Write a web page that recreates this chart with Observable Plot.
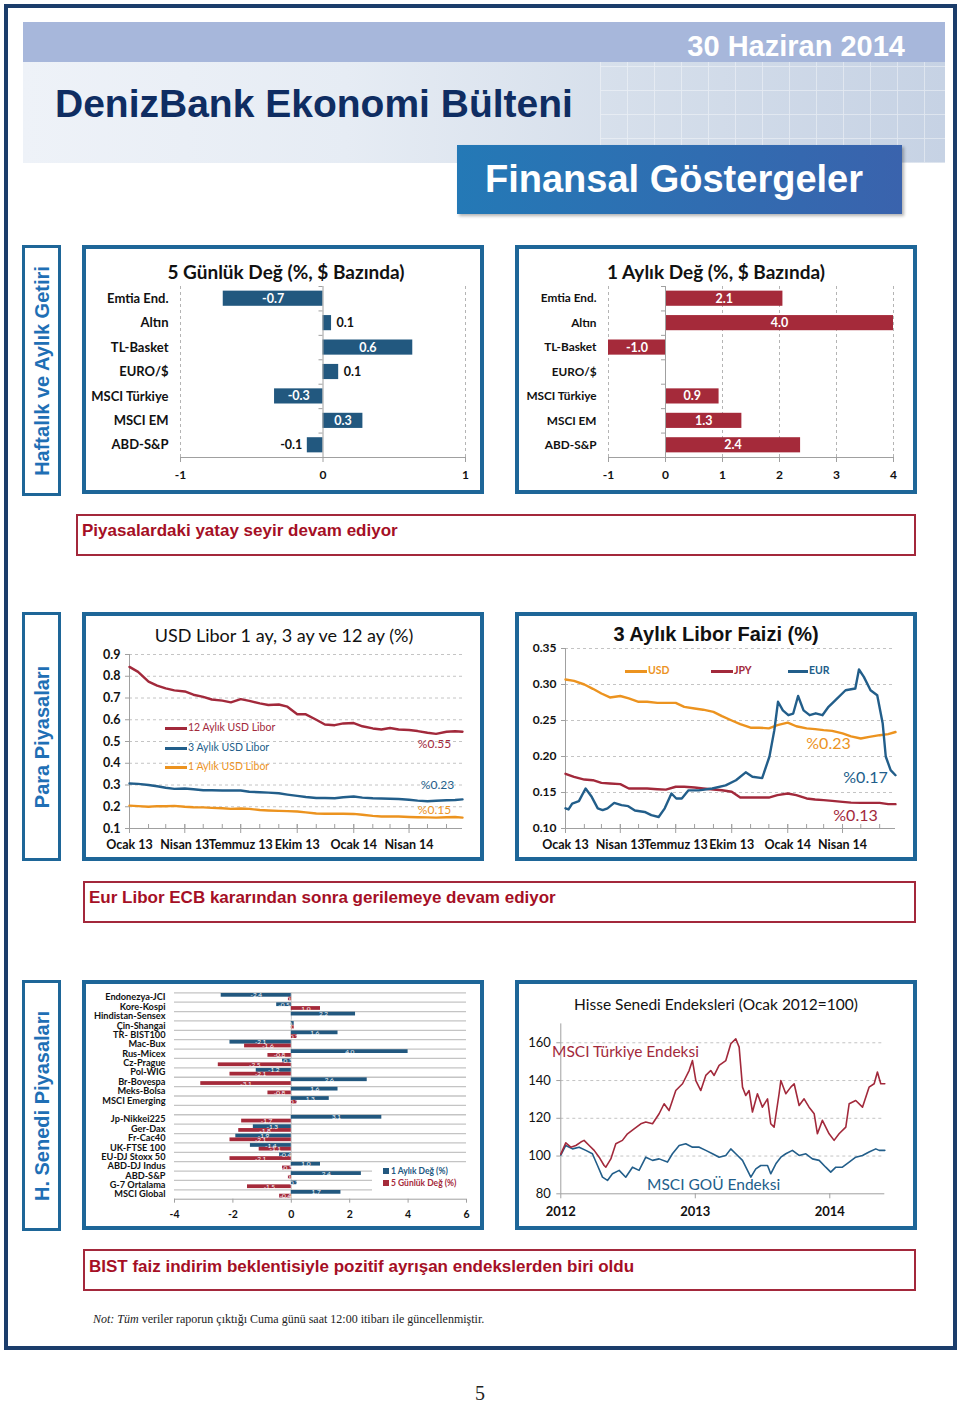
<!DOCTYPE html>
<html><head><meta charset="utf-8">
<script src="https://cdn.jsdelivr.net/npm/d3@7"></script>
<script src="https://cdn.jsdelivr.net/npm/@observablehq/plot@0.6"></script>
<style>
body{margin:0;background:#fff;}
#page{position:relative;width:960px;height:1403px;overflow:hidden;font-family:Lato,sans-serif;background:#fff;}
.panel{border:4px solid #1e6698;box-sizing:border-box;background:#fff;}
.side{border:3px solid #1e6698;box-sizing:border-box;background:#fff;}
.side span{position:absolute;left:50%;top:50%;transform:translate(-50%,-50%) rotate(-90deg);white-space:nowrap;font:bold 20px "Liberation Sans",Arial,sans-serif;color:#1f6fb5;}
.cap{border:2px solid #a3283b;box-sizing:border-box;background:#fff;}
.captxt{font:bold 17px/17px "Liberation Sans",Arial,sans-serif;color:#a50f25;white-space:nowrap;}
.ttl{text-align:center;white-space:nowrap;color:#111;}
.lg{white-space:nowrap;font-size:10.5px;line-height:10.5px;}
.sw{display:inline-block;width:22px;height:3px;vertical-align:middle;margin-right:1px;}
</style></head>
<body><div id="page"></div>
<script>
// ---------- data ----------
const returnCats = ["Emtia End.","Altın","TL-Basket","EURO/$","MSCI Türkiye","MSCI EM","ABD-S&P"];
const weeklyChange = [-0.70, 0.06, 0.63, 0.11, -0.34, 0.28, -0.11];
const monthlyChange = [2.06, 4.0, -1.0, null, 0.94, 1.34, 2.37];
const weeklyTicks = [-1, 0, 1];
const monthlyTicks = [-1, 0, 1, 2, 3, 4];

const liborDates = ["2013-01-01","2013-01-15","2013-02-01","2013-02-15","2013-03-01","2013-03-15","2013-04-01","2013-04-15","2013-05-01","2013-05-15","2013-06-01","2013-06-15","2013-07-01","2013-07-15","2013-08-01","2013-08-15","2013-09-01","2013-09-15","2013-10-01","2013-10-15","2013-11-01","2013-11-15","2013-12-01","2013-12-15","2014-01-01","2014-01-15","2014-02-01","2014-02-15","2014-03-01","2014-03-15","2014-04-01","2014-04-15","2014-05-01","2014-05-15","2014-06-01","2014-06-15","2014-06-27"];
const usd12m = [0.843,0.82,0.775,0.757,0.744,0.735,0.73,0.715,0.705,0.693,0.688,0.68,0.695,0.687,0.675,0.668,0.67,0.66,0.625,0.625,0.60,0.578,0.575,0.583,0.585,0.57,0.56,0.555,0.562,0.555,0.553,0.548,0.54,0.535,0.545,0.547,0.545];
const usd3m = [0.307,0.305,0.300,0.294,0.2875,0.282,0.284,0.2806,0.276,0.276,0.2745,0.2745,0.2745,0.269,0.2667,0.265,0.262,0.256,0.25,0.245,0.24,0.24,0.239,0.2435,0.247,0.242,0.239,0.238,0.2366,0.2356,0.232,0.228,0.225,0.2273,0.2296,0.231,0.234];
const usd1m = [0.205,0.203,0.2,0.203,0.202,0.204,0.2,0.198,0.197,0.195,0.193,0.19,0.192,0.19,0.185,0.183,0.181,0.18,0.178,0.174,0.169,0.168,0.168,0.168,0.167,0.163,0.158,0.155,0.155,0.155,0.153,0.152,0.151,0.15,0.152,0.153,0.15];
const jpy3m = [0.176,0.1718,0.168,0.1671,0.1634,0.1625,0.1616,0.1556,0.1556,0.1556,0.1546,0.154,0.158,0.158,0.157,0.1556,0.1542,0.1532,0.151,0.143,0.143,0.143,0.143,0.1463,0.1486,0.1463,0.1417,0.1403,0.1394,0.1384,0.137,0.136,0.1356,0.1356,0.1356,0.1338,0.1338];
const eurDates = ["2013-01-01","2013-01-06","2013-01-12","2013-01-23","2013-02-03","2013-02-13","2013-02-23","2013-03-03","2013-03-11","2013-03-22","2013-04-03","2013-04-14","2013-04-25","2013-05-11","2013-05-22","2013-06-03","2013-06-13","2013-06-24","2013-07-02","2013-07-11","2013-07-22","2013-08-08","2013-08-30","2013-09-21","2013-10-08","2013-10-24","2013-11-04","2013-11-20","2013-12-02","2013-12-10","2013-12-16","2013-12-24","2014-01-02","2014-01-10","2014-01-18","2014-01-27","2014-02-06","2014-02-16","2014-02-27","2014-03-09","2014-03-20","2014-04-06","2014-04-22","2014-04-28","2014-05-06","2014-05-17","2014-05-28","2014-06-06","2014-06-11","2014-06-19","2014-06-27"];
const eur3m = [0.128,0.1264,0.1347,0.138,0.1556,0.144,0.128,0.1255,0.128,0.1356,0.1324,0.131,0.125,0.123,0.1185,0.116,0.128,0.1486,0.1417,0.1417,0.153,0.153,0.1556,0.16,0.167,0.178,0.1718,0.17,0.2,0.2366,0.276,0.264,0.2574,0.2597,0.284,0.264,0.2574,0.26,0.2574,0.269,0.278,0.292,0.2944,0.3208,0.3106,0.292,0.285,0.2458,0.2,0.181,0.174];
const quarterTicks = ["2013-01-01","2013-04-01","2013-07-01","2013-10-01","2014-01-01","2014-04-01"];
const quarterLabels = ["Ocak 13","Nisan 13","Temmuz 13","Ekim 13","Ocak 14","Nisan 14"];
const usdLiborTicks = [0.1,0.2,0.3,0.4,0.5,0.6,0.7,0.8,0.9];
const liborFaizTicks = [0.10,0.15,0.20,0.25,0.30,0.35];

const stockCats = ["Endonezya-JCI","Kore-Kospi","Hindistan-Sensex","Çin-Shangai","TR- BIST100","Mac-Bux","Rus-Micex","Cz-Prague","Pol-WIG","Br-Bovespa","Meks-Bolsa","MSCI Emerging","","Jp-Nikkei225","Ger-Dax","Fr-Cac40","UK-FTSE 100","EU-DJ Stoxx 50","ABD-DJ Indus","ABD-S&P","G-7 Ortalama","MSCI Global"];
const stockMonthly = [-2.4,-0.5,2.2,0.1,1.6,-2.1,4.0,-0.3,-1.2,2.6,1.6,1.3,null,3.1,-1.3,-1.9,-1.4,-0.4,1.0,2.4,0.2,1.7];
const stockWeekly = [-0.1,1.0,0.0,0.1,0.2,-1.6,-0.8,-2.5,-2.1,-3.1,-0.8,0.2,null,-1.7,-1.8,-2.1,-1.1,-2.1,-0.3,-0.1,-1.5,-0.4];
const stockTicks = [-4,-2,0,2,4,6];

const turkeyYears = [2012.000,2012.037,2012.074,2012.112,2012.149,2012.173,2012.211,2012.248,2012.285,2012.322,2012.335,2012.372,2012.409,2012.458,2012.496,2012.545,2012.595,2012.632,2012.682,2012.731,2012.768,2012.805,2012.855,2012.905,2012.954,2012.979,2013.004,2013.041,2013.078,2013.115,2013.140,2013.177,2013.227,2013.264,2013.301,2013.326,2013.351,2013.375,2013.400,2013.425,2013.462,2013.499,2013.537,2013.561,2013.586,2013.623,2013.636,2013.673,2013.710,2013.735,2013.772,2013.809,2013.846,2013.884,2013.908,2013.945,2013.995,2014.032,2014.069,2014.119,2014.144,2014.193,2014.243,2014.292,2014.330,2014.354,2014.379,2014.409];
const turkeyIndex = [101,107,104.7,105.6,107.4,108.3,105.6,103,99.4,95,94.1,98.5,106.5,108.3,111.8,114.4,117.1,118,117.1,122.4,127.7,124.1,134.7,138.3,145.3,150.6,140,134.7,142.7,145.3,142.7,148,150.6,159.5,162.1,157.7,136.5,132.1,134.7,123.3,133,125.9,130.3,117.1,115.3,133,140,133,136.5,138.3,126.8,130.3,125.9,122.4,111.8,118.9,111.8,108.3,111.8,115.3,127.7,129.4,125.9,136.5,138.3,144.5,138.3,138.3];
const emYears = [2012.000,2012.037,2012.087,2012.136,2012.186,2012.235,2012.273,2012.310,2012.347,2012.384,2012.434,2012.483,2012.533,2012.582,2012.632,2012.682,2012.731,2012.793,2012.830,2012.880,2012.929,2012.979,2013.029,2013.078,2013.128,2013.177,2013.227,2013.264,2013.301,2013.351,2013.388,2013.413,2013.450,2013.487,2013.537,2013.561,2013.599,2013.636,2013.673,2013.722,2013.772,2013.822,2013.871,2013.921,2013.970,2014.007,2014.045,2014.094,2014.144,2014.193,2014.243,2014.292,2014.342,2014.367,2014.409];
const emIndex = [100.5,105.6,103.8,104.7,103,101.2,95,88.8,87.1,90.6,92.4,88.8,94.1,92.4,99.4,97.7,98.5,96.8,101.2,105.6,106.5,104.7,104.7,103,101.2,99.4,100.3,103.8,101.2,97.7,92.4,88.8,93.2,95,95,90.6,95.9,99.4,101.2,103,100.3,101.2,98.5,97.7,94.1,91.5,94.1,94.1,96.8,99.4,100.3,102.1,103.8,103,103];
const yearTicks = [2012, 2013, 2014];
const indexTicks = [80, 100, 120, 140, 160];

// ---------- colours ----------
const BLUE_BAR = "#22587f", RED_BAR = "#a52a3a";
const RED = "#a2293b", BLUE = "#225e8a", ORANGE = "#ec931f";
const AXIS = "#a0a0a0", GRID = "#c4c4c4";

// ---------- helpers ----------
const page = document.getElementById("page");
function el(css, html, cls) {
  const e = document.createElement("div");
  if (cls) e.className = cls;
  e.style.cssText = "position:absolute;" + css;
  if (html != null) e.innerHTML = html;
  page.appendChild(e);
  return e;
}
function place(svg, left, top) { el(`left:${left}px;top:${top}px;`).appendChild(svg); }
const style = {fontFamily: "Lato, sans-serif", fontSize: "11px", color: "#111", background: "transparent", overflow: "visible"};

// ---------- page furniture ----------
el("left:4px;top:4px;width:953px;height:1346px;border:4px solid #1b3d6b;box-sizing:border-box;");
el("left:23px;top:22px;width:922px;height:40px;background:#a7b7db;");
el("left:23px;top:62px;width:922px;height:101px;background:linear-gradient(90deg,#eef2f8 0%,#e6ecf4 35%,#d6dfeb 65%,#c6d2e4 100%);");
el("left:600px;top:62px;width:345px;height:101px;opacity:.45;background-image:repeating-linear-gradient(90deg,rgba(255,255,255,.9) 0 1px,transparent 1px 27px),repeating-linear-gradient(0deg,rgba(255,255,255,.9) 0 1px,transparent 1px 24px);");
el("right:55px;top:32px;font:bold 29px/29px 'Liberation Sans',Arial,sans-serif;color:#fff;white-space:nowrap;", "30 Haziran 2014");
el("left:55px;top:84px;font:bold 39px/39px 'Liberation Sans',Arial,sans-serif;color:#0f2d62;white-space:nowrap;", "DenizBank Ekonomi Bülteni");
el("left:457px;top:145px;width:445px;height:69px;background:linear-gradient(90deg,#2479b6,#3a63ad);box-shadow:2px 2px 3px rgba(0,0,0,.3);");
el("left:485px;top:160px;font:bold 38px/38px 'Liberation Sans',Arial,sans-serif;color:#fff;white-space:nowrap;", "Finansal Göstergeler");

el("left:22px;top:245px;width:39px;height:251px;", "<span>Haftalık ve Aylık Getiri</span>", "side");
el("left:22px;top:612px;width:39px;height:249px;", "<span>Para Piyasaları</span>", "side");
el("left:22px;top:980px;width:39px;height:251px;", "<span>H. Senedi Piyasaları</span>", "side");

const panels = [[82,245,402,249],[515,245,402,249],[82,612,402,249],[515,612,402,249],[82,980,402,250],[515,980,402,250]];
for (const [l,t,w,h] of panels) el(`left:${l}px;top:${t}px;width:${w}px;height:${h}px;`, null, "panel");

el("left:76px;top:514px;width:840px;height:42px;", null, "cap");
el("left:82px;top:522px;", "Piyasalardaki yatay seyir devam ediyor", "captxt");
el("left:83px;top:881px;width:833px;height:42px;", null, "cap");
el("left:89px;top:889px;", "Eur Libor ECB kararından sonra gerilemeye devam ediyor", "captxt");
el("left:83px;top:1249px;width:833px;height:42px;", null, "cap");
el("left:89px;top:1258px;", "BIST faiz indirim beklentisiyle pozitif ayrışan endekslerden biri oldu", "captxt");

el("left:93px;top:1313px;font:12px/12px 'Liberation Serif',serif;color:#222;white-space:nowrap;", "<i>Not: Tüm</i> veriler raporun çıktığı Cuma günü saat 12:00 itibarı ile güncellenmiştir.");
el("left:475px;top:1383px;font:20px/20px 'Liberation Serif',serif;color:#222;", "5");

// ---------- charts 1 & 2 ----------
function returnChart(vals, ticks, color, mL, mR, threshold, catFont) {
  const n = returnCats.length;
  const rows = returnCats.map((c, i) => ({c, i, v: vals[i]})).filter(d => d.v !== null);
  const inside = rows.filter(d => Math.abs(d.v) >= threshold);
  const outPos = rows.filter(d => Math.abs(d.v) < threshold && d.v > 0);
  const outNeg = rows.filter(d => Math.abs(d.v) < threshold && d.v < 0);
  const fmt = d => d.v.toFixed(1);
  const lab = {y: d => d.i + 0.5, text: fmt, fontWeight: "bold", fontSize: 12.5};
  return Plot.plot({
    width: 394, height: 241, marginLeft: mL, marginRight: mR, marginTop: 36, marginBottom: 34,
    x: {domain: [ticks[0], ticks[ticks.length - 1]]}, y: {domain: [n, 0]}, style,
    marks: [
      Plot.ruleX(ticks.filter(t => t !== 0), {y1: 0, y2: n, stroke: "#b4b4b4", strokeDasharray: "3,3"}),
      Plot.rect(rows, {x1: 0, x2: "v", y1: d => d.i + 0.19, y2: d => d.i + 0.81, fill: color}),
      Plot.ruleX([0], {y1: 0, y2: n, stroke: AXIS}),
      Plot.ruleY(d3.range(n + 1), {x1: 0, x2: 0, insetLeft: -4, stroke: AXIS}),
      Plot.ruleY([n], {stroke: AXIS}),
      Plot.ruleX(ticks, {y1: n, y2: n, insetBottom: -5, stroke: AXIS}),
      Plot.axisX({ticks, tickSize: 0, tickPadding: 13, fontWeight: "bold", fontSize: 12, label: null, tickFormat: d => String(d)}),
      Plot.axisY({ticks: d3.range(n).map(i => i + 0.5), tickFormat: t => returnCats[Math.floor(t)], tickSize: 0, tickPadding: 12, fontWeight: "bold", fontSize: catFont, label: null}),
      Plot.text(inside, {...lab, x: d => d.v / 2, fill: "white"}),
      Plot.text(outPos, {...lab, x: "v", textAnchor: "start", dx: 5, fill: "#111"}),
      Plot.text(outNeg, {...lab, x: "v", textAnchor: "end", dx: -5, fill: "#111"})
    ]
  });
}
el("left:85px;top:262px;width:402px;font:bold 19px/19px Lato,sans-serif;", "5 Günlük Değ (%, $ Bazında)", "ttl");
place(returnChart(weeklyChange, weeklyTicks, BLUE_BAR, 93, 16, 0.15, 13), 87, 250);
el("left:515px;top:262px;width:402px;font:bold 19px/19px Lato,sans-serif;", "1 Aylık Değ (%, $ Bazında)", "ttl");
place(returnChart(monthlyChange, monthlyTicks, RED_BAR, 90, 19, 0.15, 11.8), 518, 250);

// ---------- charts 3 & 4 ----------
const qDates = quarterTicks.map(d => new Date(d));
const qLabel = d => quarterLabels[qDates.findIndex(q => +q === +d)];
function timeChart({series, yTicks, yFmt, mL, mR, mT, mB, yFont}) {
  const start = new Date(liborDates[0]), end = new Date(liborDates[liborDates.length - 1]);
  const months = d3.utcMonth.range(start, end);
  const y0 = yTicks[0], y1 = yTicks[yTicks.length - 1];
  const marks = [
    Plot.ruleY(yTicks.slice(1), {stroke: GRID, strokeDasharray: "3,3"}),
    Plot.ruleY([y0], {stroke: AXIS}),
    Plot.ruleX([start], {y1: y0, y2: y1, stroke: AXIS}),
    Plot.ruleY(yTicks, {x1: start, x2: start, insetLeft: -4, stroke: AXIS}),
    Plot.ruleX(months, {y1: y0, y2: y0, insetTop: -4, stroke: AXIS}),
    Plot.ruleX(qDates, {y1: y0, y2: y0, insetTop: -4, insetBottom: -5, stroke: AXIS}),
    Plot.axisX({ticks: qDates, tickFormat: qLabel, tickSize: 0, tickPadding: 12, fontWeight: "bold", fontSize: 12.5, label: null}),
    Plot.axisY({ticks: yTicks, tickFormat: yFmt, tickSize: 0, tickPadding: 9, fontWeight: "bold", fontSize: yFont, label: null})
  ];
  for (const s of series) {
    const data = s.dates.map((d, i) => ({date: new Date(d), v: s.values[i]}));
    marks.push(Plot.line(data, {x: "date", y: "v", stroke: s.color, strokeWidth: 2.4}));
  }
  for (const s of series) {
    const last = {date: new Date(s.dates[s.dates.length - 1]), v: s.values[s.values.length - 1]};
    marks.push(Plot.text([last], {x: "date", y: "v", text: d => "%" + d.v.toFixed(2), fill: s.color, dx: s.dx, dy: s.dy, fontSize: s.fs}));
  }
  return Plot.plot({
    width: 394, height: 241, marginLeft: mL, marginRight: mR, marginTop: mT, marginBottom: mB,
    x: {type: "utc", domain: [start, end]}, y: {domain: [y0, y1]}, style, marks
  });
}
el("left:83px;top:626px;width:402px;font:18px/18px Lato,sans-serif;", "USD Libor 1 ay, 3 ay ve 12 ay (%)", "ttl");
place(timeChart({
  series: [
    {dates: liborDates, values: usd12m, color: RED, dx: -28, dy: 12, fs: 12},
    {dates: liborDates, values: usd3m, color: BLUE, dx: -25, dy: -14, fs: 12},
    {dates: liborDates, values: usd1m, color: ORANGE, dx: -28, dy: -7, fs: 12}
  ],
  yTicks: usdLiborTicks, yFmt: d => d.toFixed(1), mL: 42, mR: 19, mT: 38, mB: 29, yFont: 12.5
}), 87, 616);
el(`left:165px;top:722px;color:${RED};`, `<span class="sw" style="background:${RED}"></span>12 Aylık USD Libor`, "lg");
el(`left:165px;top:742px;color:${BLUE};`, `<span class="sw" style="background:${BLUE}"></span>3 Aylık USD Libor`, "lg");
el(`left:165px;top:761px;color:${ORANGE};`, `<span class="sw" style="background:${ORANGE}"></span>1 Aylık USD Libor`, "lg");

el("left:515px;top:624px;width:402px;font:bold 20px/20px 'Liberation Sans',Arial,sans-serif;", "3 Aylık Libor Faizi (%)", "ttl");
place(timeChart({
  series: [
    {dates: liborDates, values: usd3m, color: ORANGE, dx: -67, dy: 12, fs: 16},
    {dates: liborDates, values: jpy3m, color: RED, dx: -40, dy: 12, fs: 16},
    {dates: eurDates, values: eur3m, color: BLUE, dx: -30, dy: 3, fs: 16}
  ],
  yTicks: liborFaizTicks, yFmt: d => d.toFixed(2), mL: 47, mR: 17, mT: 32, mB: 29, yFont: 12
}), 518, 616);
el(`left:625px;top:665px;color:${ORANGE};font-weight:bold;`, `<span class="sw" style="background:${ORANGE}"></span>USD`, "lg");
el(`left:711px;top:665px;color:${RED};font-weight:bold;`, `<span class="sw" style="background:${RED}"></span>JPY`, "lg");
el(`left:788px;top:665px;color:${BLUE};font-weight:bold;`, `<span class="sw" style="background:${BLUE};width:20px"></span>EUR`, "lg");

// ---------- chart 5 ----------
(function () {
  const n = stockCats.length;
  const blue = stockCats.map((c, i) => ({i, v: stockMonthly[i]})).filter(d => d.v !== null);
  const red = stockCats.map((c, i) => ({i, v: stockWeekly[i]})).filter(d => d.v !== null);
  const lab = {text: d => d.v.toFixed(1), fill: "white", fontSize: 6.5};
  const svg = Plot.plot({
    width: 394, height: 242, marginLeft: 87, marginRight: 15, marginTop: 8.3, marginBottom: 27.3,
    x: {domain: [stockTicks[0], stockTicks[stockTicks.length - 1]]}, y: {domain: [n, 0]}, style,
    marks: [
      Plot.ruleY(d3.range(0, n), {stroke: GRID, strokeWidth: 1.3}),
      Plot.ruleY([n], {stroke: AXIS}),
      Plot.ruleX([0], {y1: 0, y2: n, stroke: GRID}),
      Plot.rect(blue, {x1: 0, x2: "v", y1: d => d.i + 0.07, y2: d => d.i + 0.47, fill: BLUE_BAR}),
      Plot.rect(red, {x1: 0, x2: "v", y1: d => d.i + 0.47, y2: d => d.i + 0.87, fill: RED_BAR}),
      Plot.text(blue, {...lab, x: d => d.v / 2, y: d => d.i + 0.27}),
      Plot.text(red, {...lab, x: d => d.v / 2, y: d => d.i + 0.67}),
      Plot.ruleX(stockTicks, {y1: n, y2: n, insetBottom: -4, stroke: AXIS}),
      Plot.axisX({ticks: stockTicks, tickFormat: d => String(d), tickSize: 0, tickPadding: 11, fontWeight: "bold", fontSize: 10.5, label: null}),
      Plot.axisY({ticks: d3.range(n).map(i => i + 0.5), tickFormat: t => stockCats[Math.floor(t)], tickSize: 0, tickPadding: 9, fontWeight: "bold", fontSize: 9.2, label: null})
    ]
  });
  place(svg, 87, 984);
  el("left:372px;top:1164px;width:94px;height:32px;background:#fff;font:bold 8.5px/11px Lato,sans-serif;white-space:nowrap;",
    `<div style="position:absolute;left:11px;top:2px;color:${BLUE_BAR}"><span style="display:inline-block;width:6px;height:6px;background:${BLUE_BAR};margin-right:2px"></span>1 Aylık Değ (%)</div>` +
    `<div style="position:absolute;left:11px;top:14px;color:${RED_BAR}"><span style="display:inline-block;width:6px;height:6px;background:${RED_BAR};margin-right:2px"></span>5 Günlük Değ (%)</div>`);
})();

// ---------- chart 6 ----------
(function () {
  const tr = turkeyYears.map((x, i) => ({x, v: turkeyIndex[i]}));
  const em = emYears.map((x, i) => ({x, v: emIndex[i]}));
  const x0 = yearTicks[0], x1 = turkeyYears[turkeyYears.length - 1];
  const svg = Plot.plot({
    width: 394, height: 242, marginLeft: 42.3, marginRight: 27.7, marginTop: 39.4, marginBottom: 32.7,
    x: {domain: [x0, x1]}, y: {domain: [80, 170]}, style,
    marks: [
      Plot.ruleY(indexTicks.slice(1), {stroke: GRID, strokeDasharray: "3,3"}),
      Plot.ruleY([indexTicks[0]], {stroke: AXIS}),
      Plot.ruleX([x0], {stroke: AXIS}),
      Plot.ruleY(indexTicks, {x1: x0, x2: x0, insetLeft: -4, stroke: AXIS}),
      Plot.ruleX(yearTicks, {y1: 80, y2: 80, insetBottom: -5, stroke: AXIS}),
      Plot.line(em, {x: "x", y: "v", stroke: BLUE, strokeWidth: 1.6}),
      Plot.line(tr, {x: "x", y: "v", stroke: RED, strokeWidth: 1.6}),
      Plot.axisX({ticks: yearTicks, tickFormat: d => String(d), tickSize: 0, tickPadding: 13, fontWeight: "bold", fontSize: 13, label: null}),
      Plot.axisY({ticks: indexTicks, tickSize: 0, tickPadding: 10, fontSize: 13, label: null})
    ]
  });
  place(svg, 518, 984);
})();
el("left:515px;top:997px;width:402px;font:15.5px/15.5px Lato,sans-serif;", "Hisse Senedi Endeksleri (Ocak 2012=100)", "ttl");
el(`left:552px;top:1044px;font:15.5px/15.5px Lato,sans-serif;color:${RED};white-space:nowrap;`, "MSCI Türkiye Endeksi");
el(`left:647px;top:1177px;font:15.5px/15.5px Lato,sans-serif;color:${BLUE};white-space:nowrap;`, "MSCI GOÜ Endeksi");
</script>
</body></html>
